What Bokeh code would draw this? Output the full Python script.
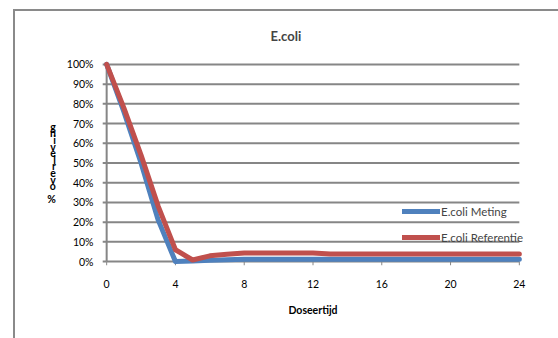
from bokeh.plotting import figure
from bokeh.models import Range1d, FixedTicker, PrintfTickFormatter, Legend, LegendItem
from bokeh.embed import file_html
from bokeh.resources import INLINE

# Survival of E. coli over dosing time (hours), percent
hours = list(range(0, 25))
meting = [100, 76, 50, 21, 0, 0.3, 0.6, 0.9, 1.2, 1.2, 1.2, 1.2, 1.2,
          1.2, 1.2, 1.2, 1.2, 1.2, 1.2, 1.2, 1.2, 1.2, 1.2, 1.2, 1.2]
referentie = [100, 78, 54, 28, 6, 0.8, 2.9, 3.7, 4.3, 4.3, 4.3, 4.3, 4.3,
              3.8, 3.8, 3.8, 3.8, 3.8, 3.8, 3.8, 3.8, 3.8, 3.8, 3.8, 3.8]
x_ticks = [0, 4, 8, 12, 16, 20, 24]
y_ticks = [0, 10, 20, 30, 40, 50, 60, 70, 80, 90, 100]
y_title = "% overleving"

FONT = "Lato"
GRID = "#868686"
X_PAD, Y_PAD = 0.3, 2.0

p = figure(output_backend="svg", toolbar_location=None,
           x_range=Range1d(x_ticks[0] - X_PAD, x_ticks[-1] + X_PAD),
           y_range=Range1d(y_ticks[0] - Y_PAD, y_ticks[-1] + Y_PAD),
           frame_width=423, frame_height=205,
           min_border_left=86, min_border_top=49,
           min_border_right=34, min_border_bottom=73,
           background_fill_color="white", border_fill_color="white")
p.margin = (9, 0, 0, 13)
p.styles = {"border-left": "2px solid #8a8a8a", "border-top": "2px solid #8a8a8a"}
p.outline_line_color = None
p.xgrid.visible = False
p.ygrid.visible = False

# horizontal gridlines (0% doubles as the x axis line)
p.multi_line(xs=[[x_ticks[0], x_ticks[-1]] for _ in y_ticks],
             ys=[[v, v] for v in y_ticks],
             line_color=GRID, line_width=2)
# vertical axis line at x = 0
p.segment(x0=[x_ticks[0]], y0=[y_ticks[0]], x1=[x_ticks[0]], y1=[y_ticks[-1]],
          line_color=GRID, line_width=2)
# outward tick marks
p.segment(x0=[x_ticks[0] - 0.23] * len(y_ticks), y0=y_ticks,
          x1=[x_ticks[0]] * len(y_ticks), y1=y_ticks,
          line_color=GRID, line_width=2)
p.segment(x0=x_ticks, y0=[y_ticks[0] - Y_PAD] * len(x_ticks),
          x1=x_ticks, y1=[y_ticks[0]] * len(x_ticks),
          line_color=GRID, line_width=1)

for ax in (p.xaxis[0], p.yaxis[0]):
    ax.axis_line_color = None
    ax.major_tick_line_color = None
    ax.minor_tick_line_color = None
    ax.major_tick_in = 0
    ax.major_tick_out = 0
    ax.major_label_text_font = FONT
    ax.major_label_text_font_size = "10.5px"
    ax.major_label_text_color = "#000000"
    ax.axis_label_text_font = FONT
    ax.axis_label_text_font_style = "bold"
    ax.axis_label_text_color = "#000000"

p.xaxis.ticker = FixedTicker(ticks=x_ticks)
p.xaxis.major_label_standoff = 14
p.xaxis.axis_label = "Doseertijd"
p.xaxis.axis_label_text_font_size = "10.5px"
p.xaxis.axis_label_standoff = 13

p.yaxis.ticker = FixedTicker(ticks=y_ticks)
p.yaxis.formatter = PrintfTickFormatter(format="%d%%")
p.yaxis.major_label_standoff = 8
# y title drawn as a stacked column of characters
p.yaxis.axis_label = "\n".join(reversed(y_title))
p.yaxis.axis_label_orientation = "horizontal"
p.yaxis.axis_label_text_font_size = "10.5px"
p.yaxis.axis_label_text_line_height = 0.55
p.yaxis.axis_label_standoff = 8

r_met = p.line(hours, meting, line_color="#4F81BD", line_width=5,
               line_join="round", line_cap="round")
r_ref = p.line(hours, referentie, line_color="#C0504D", line_width=5,
               line_join="round", line_cap="round")

legend = Legend(items=[LegendItem(label="E.coli Meting", renderers=[r_met]),
                       LegendItem(label="E.coli Referentie", renderers=[r_ref])],
                location=(301, 20), orientation="vertical",
                background_fill_alpha=0, border_line_color=None,
                padding=0, margin=0, spacing=10,
                glyph_width=38, glyph_height=16, label_height=16,
                label_standoff=1, label_text_font=FONT,
                label_text_font_size="11.5px")
p.add_layout(legend)

p.title.text = "E.coli"
p.title.align = "left"
p.title.offset = 169
p.title.standoff = 30
p.title.vertical_align = "top"
p.title.text_font = FONT
p.title.text_font_style = "bold"
p.title.text_font_size = "13px"

open("out.html", "w").write(file_html(p, INLINE))
